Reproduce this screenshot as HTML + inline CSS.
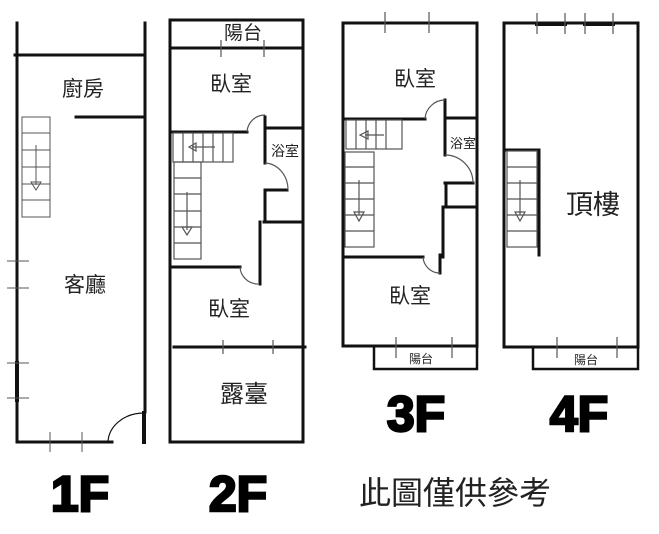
<!DOCTYPE html>
<html><head><meta charset="utf-8"><style>
html,body{margin:0;padding:0;background:#fff;width:659px;height:534px;overflow:hidden}
text{font-family:"Liberation Sans","Noto Sans CJK TC",sans-serif;fill:#222}
.big{font-size:50px;font-weight:bold;fill:#000;stroke:#000;stroke-width:2.5}
</style></head><body>
<svg width="659" height="534" viewBox="0 0 659 534" xmlns="http://www.w3.org/2000/svg">
<g stroke="#111" stroke-width="3" fill="none" stroke-linecap="square">
<line x1="17" y1="23" x2="17" y2="442"/>
<line x1="145" y1="23" x2="145" y2="412"/>
<line x1="15" y1="55" x2="145" y2="55"/>
<line x1="76" y1="117" x2="145" y2="117"/>
<line x1="17" y1="442" x2="112" y2="442"/>
<line x1="144" y1="413" x2="144" y2="442" stroke-width="4"/>
<path d="M108 442 A36 30 0 0 1 144 413" stroke-width="1.2"/>
<line x1="17" y1="363" x2="17" y2="400" stroke-width="4"/>
</g>
<g stroke="#555" stroke-width="1" fill="none">
<rect x="22" y="117" width="28" height="100"/>
<line x1="22" y1="133" x2="50" y2="133"/><line x1="22" y1="150" x2="50" y2="150"/><line x1="22" y1="167" x2="50" y2="167"/><line x1="22" y1="184" x2="50" y2="184"/><line x1="22" y1="200" x2="50" y2="200"/>
<line x1="36" y1="145" x2="36" y2="185"/><path d="M31 182 L41 182 L36 190 Z"/>
<line x1="7" y1="261" x2="29" y2="261"/><line x1="7" y1="288" x2="29" y2="288"/><line x1="7" y1="363" x2="29" y2="363"/><line x1="7" y1="398" x2="29" y2="398"/>
<line x1="50" y1="432" x2="50" y2="452"/><line x1="82" y1="432" x2="82" y2="452"/>
</g>
<g stroke="#111" stroke-width="3" fill="none" stroke-linecap="square">
<rect x="170" y="20" width="133" height="422"/>
<line x1="170" y1="48" x2="300" y2="48"/>
<line x1="171" y1="132" x2="247" y2="132"/>
<line x1="265" y1="117" x2="265" y2="163"/>
<line x1="265" y1="128" x2="303" y2="128"/>
<line x1="265" y1="190" x2="265" y2="222"/>
<line x1="265" y1="190" x2="287" y2="190"/>
<line x1="264" y1="222" x2="303" y2="222"/>
<line x1="260" y1="222" x2="260" y2="284"/>
<line x1="172" y1="267" x2="240" y2="267"/>
<line x1="174" y1="347" x2="305" y2="347"/>
</g>
<g stroke="#555" stroke-width="1.2" fill="none">
<path d="M247 132 A18 18 0 0 1 265 115"/>
<path d="M265 163 A24 27 0 0 1 288 190"/>
<path d="M240 267 A18 18 0 0 0 258 284"/>
<line x1="221" y1="40" x2="221" y2="57"/><line x1="264" y1="40" x2="264" y2="57"/>
<line x1="223" y1="340" x2="223" y2="354"/><line x1="273" y1="340" x2="273" y2="354"/>
<rect x="173" y="133" width="60" height="29"/>
<line x1="183" y1="133" x2="183" y2="162"/><line x1="193" y1="133" x2="193" y2="162"/><line x1="203" y1="133" x2="203" y2="162"/><line x1="213" y1="133" x2="213" y2="162"/><line x1="223" y1="133" x2="223" y2="162"/>
<line x1="192" y1="147" x2="215" y2="147"/><path d="M196 143 L196 151 L189 147 Z"/>
<rect x="174" y="162" width="27" height="97"/>
<line x1="174" y1="178" x2="201" y2="178"/><line x1="174" y1="194" x2="201" y2="194"/><line x1="174" y1="211" x2="201" y2="211"/><line x1="174" y1="227" x2="201" y2="227"/><line x1="174" y1="243" x2="201" y2="243"/>
<line x1="187" y1="192" x2="187" y2="230"/><path d="M182 227 L192 227 L187 235 Z"/>
</g>
<g stroke="#111" stroke-width="3" fill="none" stroke-linecap="square">
<rect x="343" y="23" width="134" height="323"/>
<line x1="343" y1="119" x2="425" y2="119"/>
<line x1="445" y1="100" x2="445" y2="155"/>
<line x1="445" y1="118" x2="477" y2="118"/>
<line x1="445" y1="183" x2="473" y2="183"/>
<line x1="446" y1="183" x2="446" y2="205"/>
<line x1="445" y1="207" x2="477" y2="207"/>
<line x1="443" y1="207" x2="443" y2="257"/>
<line x1="440" y1="255" x2="440" y2="273"/>
<line x1="345" y1="257" x2="423" y2="257"/>
<path d="M374 346 V369 H477 V346" stroke-width="2.5"/>
</g>
<g stroke="#555" stroke-width="1.2" fill="none">
<path d="M425 119 A20 20 0 0 1 445 100"/>
<path d="M445 155 A28 28 0 0 1 473 183"/>
<path d="M423 257 A17 17 0 0 0 440 273"/>
<line x1="385" y1="12" x2="385" y2="33"/><line x1="429" y1="12" x2="429" y2="33"/>
<line x1="396" y1="337" x2="396" y2="358"/><line x1="452" y1="337" x2="452" y2="358"/>
<rect x="346" y="120" width="56" height="29"/>
<line x1="356" y1="120" x2="356" y2="149"/><line x1="366" y1="120" x2="366" y2="149"/><line x1="376" y1="120" x2="376" y2="149"/><line x1="386" y1="120" x2="386" y2="149"/>
<line x1="365" y1="135" x2="384" y2="135"/><path d="M368 131 L368 139 L360 135 Z"/>
<rect x="345" y="152" width="29" height="95"/>
<line x1="345" y1="167" x2="374" y2="167"/><line x1="345" y1="183" x2="374" y2="183"/><line x1="345" y1="199" x2="374" y2="199"/><line x1="345" y1="215" x2="374" y2="215"/><line x1="345" y1="231" x2="374" y2="231"/>
<line x1="359" y1="180" x2="359" y2="215"/><path d="M354 212 L364 212 L359 221 Z"/>
</g>
<g stroke="#111" stroke-width="3" fill="none" stroke-linecap="square">
<rect x="504" y="23" width="134" height="324"/>
<line x1="539" y1="150" x2="539" y2="255"/>
<line x1="506" y1="150" x2="539" y2="150"/>
<path d="M533 347 V369 H638 V347" stroke-width="2.5"/>
<line x1="537" y1="24" x2="565" y2="24" stroke-width="4"/>
<line x1="585" y1="24" x2="613" y2="24" stroke-width="4"/>
</g>
<g stroke="#555" stroke-width="1.2" fill="none">
<line x1="537" y1="13" x2="537" y2="34"/><line x1="565" y1="13" x2="565" y2="34"/><line x1="585" y1="13" x2="585" y2="34"/><line x1="613" y1="13" x2="613" y2="34"/>
<line x1="557" y1="337" x2="557" y2="358"/><line x1="617" y1="337" x2="617" y2="358"/>
<rect x="507" y="151" width="30" height="96"/>
<line x1="507" y1="167" x2="537" y2="167"/><line x1="507" y1="183" x2="537" y2="183"/><line x1="507" y1="199" x2="537" y2="199"/><line x1="507" y1="215" x2="537" y2="215"/><line x1="507" y1="231" x2="537" y2="231"/>
<line x1="520" y1="180" x2="520" y2="215"/><path d="M515 212 L525 212 L520 221 Z"/>
</g>
<g text-anchor="middle">
<text x="83" y="96" font-size="21">廚房</text>
<text x="85" y="292" font-size="21">客廳</text>
<text x="243" y="39" font-size="19">陽台</text>
<text x="231" y="91" font-size="21">臥室</text>
<text x="285" y="156" font-size="14">浴室</text>
<text x="229" y="316" font-size="21">臥室</text>
<text x="244" y="402" font-size="24">露臺</text>
<text x="415" y="86" font-size="21">臥室</text>
<text x="463" y="148" font-size="13">浴室</text>
<text x="410" y="303" font-size="21">臥室</text>
<text x="421" y="363" font-size="12">陽台</text>
<text x="593" y="214" font-size="27">頂樓</text>
<text x="586" y="364" font-size="12">陽台</text>
<text x="80" y="511" class="big">1F</text>
<text x="238" y="511" class="big">2F</text>
<text x="416" y="431" class="big">3F</text>
<text x="579" y="431" class="big">4F</text>
<text x="455" y="504" font-size="32">此圖僅供參考</text>
</g>
</svg>
</body></html>
